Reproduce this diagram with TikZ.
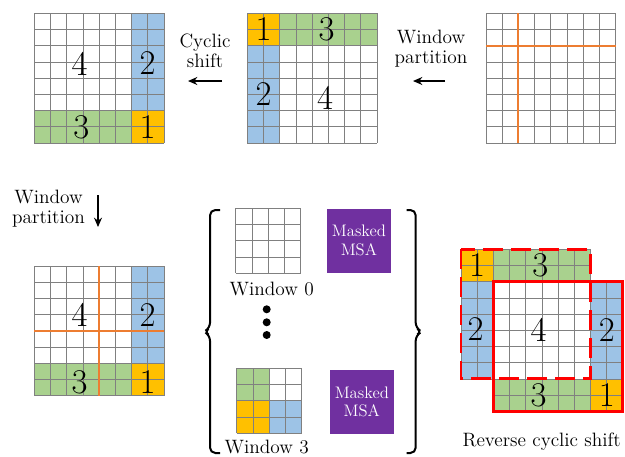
\documentclass[tikz,border=0pt]{standalone}
\usepackage{tikz}
\usetikzlibrary{arrows.meta}

\definecolor{winblue}{HTML}{9DC3E6}
\definecolor{wingreen}{HTML}{A9D18E}
\definecolor{winorange}{HTML}{FFC000}
\definecolor{partorange}{HTML}{ED7D31}
\definecolor{msapurple}{HTML}{7030A0}

% n x n cell lines of a feature map
\newcommand{\cellgrid}[1]{%
  \foreach \i in {0,...,#1} {\draw[gridline] (\i,0)--(\i,#1); \draw[gridline] (0,\i)--(#1,\i);}}
% region colours before and after the cyclic shift
\newcommand{\originalmap}{%
  \fill[white] (0,0) rectangle (8,8);
  \fill[winorange] (0,0) rectangle (2,2);
  \fill[wingreen] (2,0) rectangle (8,2);
  \fill[winblue] (0,2) rectangle (2,8);}
\newcommand{\shiftedmap}{%
  \fill[white] (0,0) rectangle (6,6);
  \fill[winblue] (6,0) rectangle (8,6);
  \fill[wingreen] (0,6) rectangle (6,8);
  \fill[winorange] (6,6) rectangle (8,8);}

\begin{document}
\begin{tikzpicture}[x=0.75pt,y=-0.75pt,>={Stealth[length=7pt,width=6pt]},
  gridline/.style={black!50,line width=0.5pt},
  partline/.style={partorange,line width=1.6pt},
  digit/.style={font=\fontsize{26}{26}\selectfont,inner sep=0pt},
  caption/.style={font=\fontsize{14.5}{15}\selectfont,align=center,inner sep=0pt},
  shiftarrow/.style={->,line width=1.6pt},
  msa/.style={fill=msapurple,text=white,minimum size=48pt,inner sep=0pt,align=center,
    font=\fontsize{12.5}{14}\selectfont},
  brace/.style={line width=1.5pt,rounded corners=4pt},
  redline/.style={red,line width=2.2pt}]
  \useasboundingbox (0,0) rectangle (625,457);

  % top row: shifted map <- original map <- partition
  \begin{scope}[shift={(34.3,13.3)},scale=16.2]
    \shiftedmap
    \cellgrid{8}
    \node[digit] (a4) at (2.8,3.1) {4};
    \node[digit] (a2) at (7,3.1) {2};
    \node[digit] (a3) at (2.9,7.05) {3};
    \node[digit] (a1) at (7,7.05) {1};
  \end{scope}
  \node[caption] (cyc) at (205,51) {Cyclic\\shift};
  \coordinate (cyc-s) at (222,81);
  \coordinate (cyc-e) at (188,81);
  \draw[shiftarrow] (cyc-s) -- (cyc-e);

  \begin{scope}[shift={(247.3,13.3)},scale=16.2]
    \originalmap
    \cellgrid{8}
    \node[digit] (b1) at (1,1) {1};
    \node[digit] (b3) at (4.9,1) {3};
    \node[digit] (b2) at (1,5) {2};
    \node[digit] (b4) at (4.8,5.2) {4};
  \end{scope}
  \node[caption] (wpa) at (431,49) {Window\\partition};
  \coordinate (wpa-s) at (445,81);
  \coordinate (wpa-e) at (413,81);
  \draw[shiftarrow] (wpa-s) -- (wpa-e);

  \begin{scope}[shift={(486,13.3)},scale=16.2]
    \fill[white] (0,0) rectangle (8,8);
    \cellgrid{8}
    \draw[partline] (2,0)--(2,8);
    \draw[partline] (0,2)--(8,2);
  \end{scope}

  % bottom left: partition of the shifted map
  \node[caption] (wpb) at (48.5,209) {Window\\partition};
  \coordinate (wpb-s) at (98,195);
  \coordinate (wpb-e) at (98,227);
  \draw[shiftarrow] (wpb-s) -- (wpb-e);
  \begin{scope}[shift={(34.3,266)},scale=16.2]
    \shiftedmap
    \cellgrid{8}
    \draw[partline] (4,0)--(4,8);
    \draw[partline] (0,4)--(8,4);
    \node[digit] (d4) at (2.8,3) {4};
    \node[digit] (d2) at (7,3) {2};
    \node[digit] (d3) at (2.8,7.15) {3};
    \node[digit] (d1) at (7,7.15) {1};
  \end{scope}

  % middle: windows with masked attention
  \draw[brace] (220,210) -- (210,210) -- (210,328) -- (204,331.7) -- (210,335.4)
    -- (210,453) -- (220,453);
  \draw[brace] (406.7,210) -- (415.7,210) -- (415.7,328) -- (422,331.7) -- (415.7,335.4)
    -- (415.7,453) -- (406.7,453);
  \begin{scope}[shift={(235.7,208.3)},scale=16.2]
    \fill[white] (0,0) rectangle (4,4);
    \cellgrid{4}
  \end{scope}
  \node[caption] (w0) at (271.7,289) {Window 0};
  \node[msa] (msa0) at (358.9,240.5) {Masked\\MSA};
  \foreach \y in {309.3,322.3,335} \fill (266.7,\y) circle (3pt);
  \begin{scope}[shift={(236.7,368.3)},scale=16.2]
    \fill[wingreen] (0,0) rectangle (2,2);
    \fill[white] (2,0) rectangle (4,2);
    \fill[winorange] (0,2) rectangle (2,4);
    \fill[winblue] (2,2) rectangle (4,4);
    \cellgrid{4}
  \end{scope}
  \node[caption] (w3) at (266.7,447) {Window 3};
  \node[msa] (msa3) at (361.8,401.8) {Masked\\MSA};

  % bottom right: reverse shift
  \begin{scope}[shift={(461,249.3)},scale=16.2]
    \originalmap
    \cellgrid{8}
    \node[digit] (e1) at (1,1) {1};
    \node[digit] (e3) at (4.9,1) {3};
    \node[digit] (e2) at (0.9,4.95) {2};
  \end{scope}
  \begin{scope}[shift={(493.3,281.7)},scale=16.2]
    \shiftedmap
    \cellgrid{8}
    \draw[redline] (0,0) rectangle (8,8);
    \node[digit] (f4) at (2.8,3) {4};
    \node[digit] (f2) at (7,3) {2};
    \node[digit] (f3) at (2.8,7) {3};
    \node[digit] (f1) at (7,7) {1};
  \end{scope}
  \begin{scope}[shift={(461,249.3)},scale=16.2]
    \draw[redline,dash pattern=on 15pt off 6pt] (0,0) rectangle (8,8);
  \end{scope}
  \node[caption] (rcs) at (541.7,442) {Reverse cyclic shift};
\end{tikzpicture}
\end{document}
